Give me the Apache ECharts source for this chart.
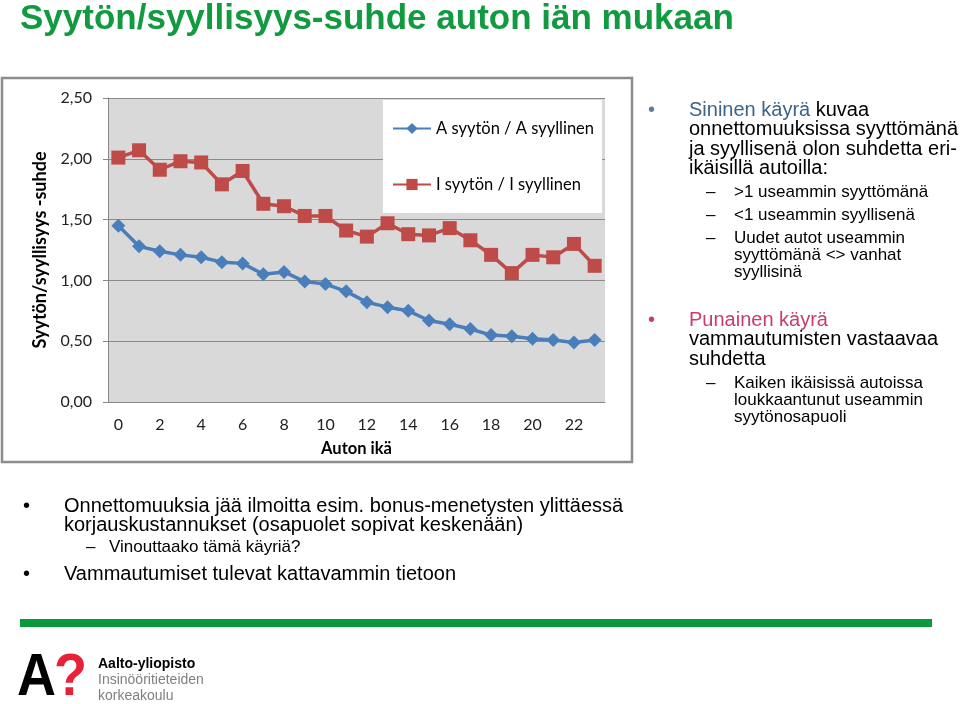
<!DOCTYPE html>
<html>
<head>
<meta charset="utf-8">
<script src="https://cdn.jsdelivr.net/npm/echarts@6/dist/echarts.min.js"></script>
<style>
html,body{margin:0;padding:0;background:#fff;}
#main{width:960px;height:704px;}
</style>
</head>
<body>
<div id="main"></div>
<script>
// ---- data ----
const ages = ['0','1','2','3','4','5','6','7','8','9','10','11','12','13','14','15','16','17','18','19','20','21','22','23'];
const seriesANames = 'A syytön / A syyllinen';
const seriesINames = 'I syytön / I syyllinen';
const aRatio = [1.45,1.28,1.24,1.21,1.19,1.15,1.14,1.05,1.07,0.99,0.97,0.91,0.82,0.78,0.75,0.67,0.64,0.60,0.55,0.54,0.52,0.51,0.49,0.51];
const iRatio = [2.01,2.07,1.91,1.98,1.97,1.79,1.90,1.63,1.61,1.53,1.53,1.41,1.36,1.47,1.38,1.37,1.43,1.33,1.21,1.06,1.21,1.19,1.30,1.12];
const yTicks = [0, 0.5, 1.0, 1.5, 2.0, 2.5];

const chart = echarts.init(document.getElementById('main'));
const SANS = '"Liberation Sans", Arial, sans-serif';
const CAL = 'Lato, "Open Sans", sans-serif';
const NARROW = '"Liberation Sans Narrow", "Liberation Sans", Arial';

function t(x, y, text, size, color, extra) {
  return {
    type: 'text', x: x, y: y, z: 10,
    style: Object.assign({
      text: text, fontSize: size, fontFamily: SANS, fill: color || '#000',
      verticalAlign: 'middle', align: 'left'
    }, extra || {})
  };
}

const graphics = [
  // chart frame
  { type: 'rect', shape: { x: 2, y: 78, width: 630, height: 384 }, z: -1,
    style: { fill: 'none', stroke: '#8c8c8c', lineWidth: 2.5 } },
  // title
  t(20, 19, 'Syytön/syyllisyys-suhde auton iän mukaan', 35, '#119a3f', { fontWeight: 'bold' }),
  // right column
  t(648, 110, '•', 20, '#5b7ea0'),
  t(689, 110, '{b|Sininen käyrä} kuvaa', 20, '#000', { rich: { b: { fill: '#3b6486', fontSize: 20, fontFamily: SANS } } }),
  t(689, 129.5, 'onnettomuuksissa syyttömänä', 20),
  t(689, 149, 'ja syyllisenä olon suhdetta eri-', 20),
  t(689, 168.5, 'ikäisillä autoilla:', 20),
  t(706, 192, '–', 17), t(734, 192, '>1 useammin syyttömänä', 17),
  t(706, 215, '–', 17), t(734, 215, '<1 useammin syyllisenä', 17),
  t(706, 238, '–', 17), t(734, 238, 'Uudet autot useammin', 17),
  t(734, 255, 'syyttömänä <> vanhat', 17),
  t(734, 272, 'syyllisinä', 17),
  t(648, 320, '•', 20, '#c83c6a'),
  t(689, 320, 'Punainen käyrä', 20, '#c83c6a'),
  t(689, 339.5, 'vammautumisten vastaavaa', 20),
  t(689, 359, 'suhdetta', 20),
  t(706, 383, '–', 17), t(734, 383, 'Kaiken ikäisissä autoissa', 17),
  t(734, 400, 'loukkaantunut useammin', 17),
  t(734, 417, 'syytönosapuoli', 17),
  // bottom bullets
  t(23, 506, '•', 20),
  t(64, 506, 'Onnettomuuksia jää ilmoitta esim. bonus-menetysten ylittäessä', 20),
  t(64, 525.5, 'korjauskustannukset (osapuolet sopivat keskenään)', 20),
  t(86, 547, '–', 17), t(109, 547, 'Vinouttaako tämä käyriä?', 17),
  t(23, 574, '•', 20),
  t(64, 574, 'Vammautumiset tulevat kattavammin tietoon', 20),
  // green bar
  { type: 'rect', shape: { x: 20, y: 619, width: 912, height: 8 }, style: { fill: '#0a9a3c' } },
  // logo
  { type: 'text', x: 17, y: 678, z: 10, scaleX: 0.9, style: { text: 'A', fontSize: 60, fontWeight: 'bold', fontFamily: NARROW, fill: '#000', verticalAlign: 'middle' } },
  { type: 'text', x: 54, y: 678, z: 10, scaleX: 0.9, style: { text: '?', fontSize: 60, fontWeight: 'bold', fontFamily: NARROW, fill: '#e8213a', verticalAlign: 'middle' } },
  t(98, 664, 'Aalto-yliopisto', 14, '#000', { fontWeight: 'bold', fontFamily: NARROW }),
  t(98, 680, 'Insinööritieteiden', 14, '#808080', { fontFamily: NARROW }),
  t(98, 696, 'korkeakoulu', 14, '#808080', { fontFamily: NARROW })
];

chart.setOption({
  animation: false,
  backgroundColor: '#fff',
  grid: { left: 108, right: 355, top: 98, bottom: 302, show: true, backgroundColor: '#d9d9d9', borderWidth: 0 },
  legend: {
    orient: 'vertical', left: 383, top: 100,
    backgroundColor: '#fff', padding: [20, 8, 20, 9], itemGap: 39,
    itemWidth: 38, itemHeight: 14,
    textStyle: { fontSize: 16.5, fontFamily: CAL, color: '#000' },
    data: [seriesANames, seriesINames]
  },
  xAxis: {
    type: 'category', data: ages, boundaryGap: true,
    name: 'Auton ikä', nameLocation: 'middle', nameGap: 38,
    nameTextStyle: { fontSize: 16.5, fontWeight: 'bold', fontFamily: CAL, color: '#000' },
    axisLine: { lineStyle: { color: '#868686' } },
    axisTick: { show: false },
    axisLabel: { interval: 1, fontSize: 16, fontFamily: CAL, color: '#222', margin: 15 }
  },
  yAxis: {
    type: 'value', min: 0, max: 2.5, interval: 0.5,
    name: 'Syytön/syyllisyys -suhde', nameLocation: 'middle', nameGap: 56,
    nameTextStyle: { fontSize: 18, fontWeight: 'bold', fontFamily: CAL, color: '#000' },
    axisLine: { show: true, lineStyle: { color: '#868686' } },
    axisTick: { show: true, length: 5, lineStyle: { color: '#868686' } },
    splitLine: { lineStyle: { color: '#8a8a8a', width: 1 } },
    axisLabel: { fontSize: 16, fontFamily: CAL, color: '#222', margin: 16,
      formatter: v => v.toFixed(2).replace('.', ',') }
  },
  series: [
    { name: seriesANames, type: 'line', data: aRatio, symbol: 'diamond', symbolSize: 14, showAllSymbol: true,
      lineStyle: { width: 3.5, color: '#4a7ebb' }, itemStyle: { color: '#4a7ebb' }, z: 3 },
    { name: seriesINames, type: 'line', data: iRatio, symbol: 'rect', symbolSize: 14, showAllSymbol: true,
      lineStyle: { width: 3.5, color: '#be4b48' }, itemStyle: { color: '#be4b48' }, z: 2 }
  ],
  graphic: graphics
});
</script>
</body>
</html>
